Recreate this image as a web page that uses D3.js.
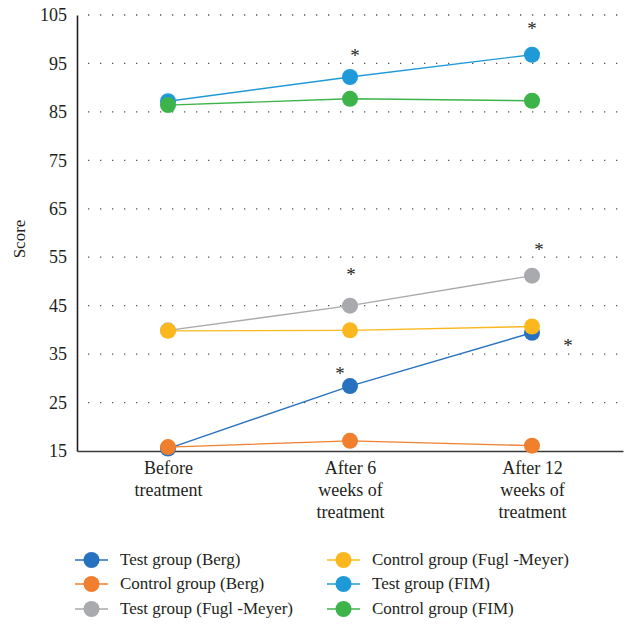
<!DOCTYPE html>
<html>
<head>
<meta charset="utf-8">
<script src="https://cdn.jsdelivr.net/npm/d3@7"></script>
<style>
  body { margin: 0; background: #fff; }
  text { font-family: "Liberation Serif", "DejaVu Serif", serif; fill: #231f20; }
</style>
</head>
<body>
<div id="chart"></div>
<script>
// data
const stages = ['Before treatment', 'After 6 weeks of treatment', 'After 12 weeks of treatment'];
const stageLines = [['Before', 'treatment'], ['After 6', 'weeks of', 'treatment'], ['After 12', 'weeks of', 'treatment']];
const yTicks = [15, 25, 35, 45, 55, 65, 75, 85, 95, 105];

const seriesNames = ['Test group (Berg)', 'Control group (Berg)', 'Test group (Fugl -Meyer)',
                     'Control group (Fugl -Meyer)', 'Test group (FIM)', 'Control group (FIM)'];
const testBerg = [15.5, 28.4, 39.4];
const controlBerg = [15.8, 17.1, 16.1];
const testFugl = [39.9, 45.0, 51.2];
const controlFugl = [39.8, 39.9, 40.7];
const testFIM = [87.2, 92.2, 96.8];
const controlFIM = [86.4, 87.7, 87.3];
const colors = ['#2771bf', '#f07f2e', '#a9aaad', '#fbb81e', '#1f9ad8', '#3cb44a'];

// significance marks: [series index, stage index, dx, dy]
const stars = [[4, 1, 5, -25], [4, 2, 0, -30], [2, 1, 1, -35], [2, 2, 7, -30], [0, 1, -10, -16], [0, 2, 36, 9]];

const allSeries = [testBerg, controlBerg, testFugl, controlFugl, testFIM, controlFIM];

const margin = {top: 15, right: 6, bottom: 176, left: 77};
const width = 629, height = 627;
const innerW = width - margin.left - margin.right;
const innerH = height - margin.top - margin.bottom;

const svg = d3.select('#chart').append('svg')
  .attr('width', width)
  .attr('height', height);

const g = svg.append('g')
  .attr('transform', 'translate(' + margin.left + ',' + margin.top + ')');

const x = d3.scalePoint()
  .domain(stages)
  .range([0, innerW])
  .padding(0.5);

const y = d3.scaleLinear()
  .domain([15, 105])
  .range([innerH, 0]);

// dotted grid
g.append('g')
  .selectAll('line')
  .data(yTicks.slice(1))
  .enter().append('line')
  .attr('x1', 11)
  .attr('x2', innerW)
  .attr('y1', d => y(d))
  .attr('y2', d => y(d))
  .attr('stroke', '#555')
  .attr('stroke-width', 1.3)
  .attr('stroke-dasharray', '1.3 10.7');

// y axis
const yAxis = d3.axisLeft(y).tickValues(yTicks).tickSize(0).tickPadding(10);
const yg = g.append('g').call(yAxis);
yg.select('.domain').attr('stroke', '#231f20').attr('stroke-width', 1.6);
yg.selectAll('text').style('font-size', '18px').attr('fill', '#231f20')
  .style('font-family', '"Liberation Serif", serif');

// x axis
const xAxis = d3.axisBottom(x).tickSize(0).tickFormat('');
const xg = g.append('g').attr('transform', 'translate(0,' + innerH + ')').call(xAxis);
xg.select('.domain').attr('stroke', '#3a3a3a').attr('stroke-width', 1.4);

xg.selectAll('.tick').each(function(d, i) {
  const t = d3.select(this).append('text')
    .attr('text-anchor', 'middle')
    .attr('fill', '#231f20')
    .style('font-size', '18px')
    .style('font-family', '"Liberation Serif", serif');
  stageLines[i].forEach((s, j) => {
    t.append('tspan').attr('x', 0).attr('y', 23 + j * 22).text(s);
  });
});

// y label
svg.append('text')
  .attr('transform', 'translate(25,' + (margin.top + innerH / 2 + 6) + ') rotate(-90)')
  .attr('text-anchor', 'middle')
  .style('font-size', '17px')
  .text('Score');

// lines and points
const line = d3.line()
  .x((d, i) => x(stages[i]))
  .y(d => y(d));

allSeries.forEach((s, k) => {
  g.append('path')
    .datum(s)
    .attr('fill', 'none')
    .attr('stroke', colors[k])
    .attr('stroke-width', 1.4)
    .attr('d', line);
});
allSeries.forEach((s, k) => {
  g.selectAll('.pt' + k)
    .data(s)
    .enter().append('circle')
    .attr('cx', (d, i) => x(stages[i]))
    .attr('cy', d => y(d))
    .attr('r', 8)
    .attr('fill', colors[k]);
});

// asterisks
g.selectAll('.star')
  .data(stars)
  .enter().append('text')
  .attr('x', d => x(stages[d[1]]) + d[2])
  .attr('y', d => y(allSeries[d[0]][d[1]]) + d[3] + 10)
  .attr('text-anchor', 'middle')
  .style('font-size', '19px')
  .attr('fill', '#333')
  .text('*');

// legend
const legend = svg.append('g');
const legX = [75, 327], legY = [560, 584, 609];
seriesNames.forEach((name, k) => {
  const col = Math.floor(k / 3), row = k % 3;
  const lg = legend.append('g')
    .attr('transform', 'translate(' + legX[col] + ',' + legY[row] + ')');
  lg.append('line')
    .attr('x1', 0).attr('x2', 33)
    .attr('stroke', colors[k]).attr('stroke-width', 1.6);
  lg.append('circle')
    .attr('cx', 16.5).attr('r', 8)
    .attr('fill', colors[k]);
  lg.append('text')
    .attr('x', 45)
    .attr('dy', '0.32em')
    .style('font-size', '17px')
    .text(name);
});
</script>
</body>
</html>
